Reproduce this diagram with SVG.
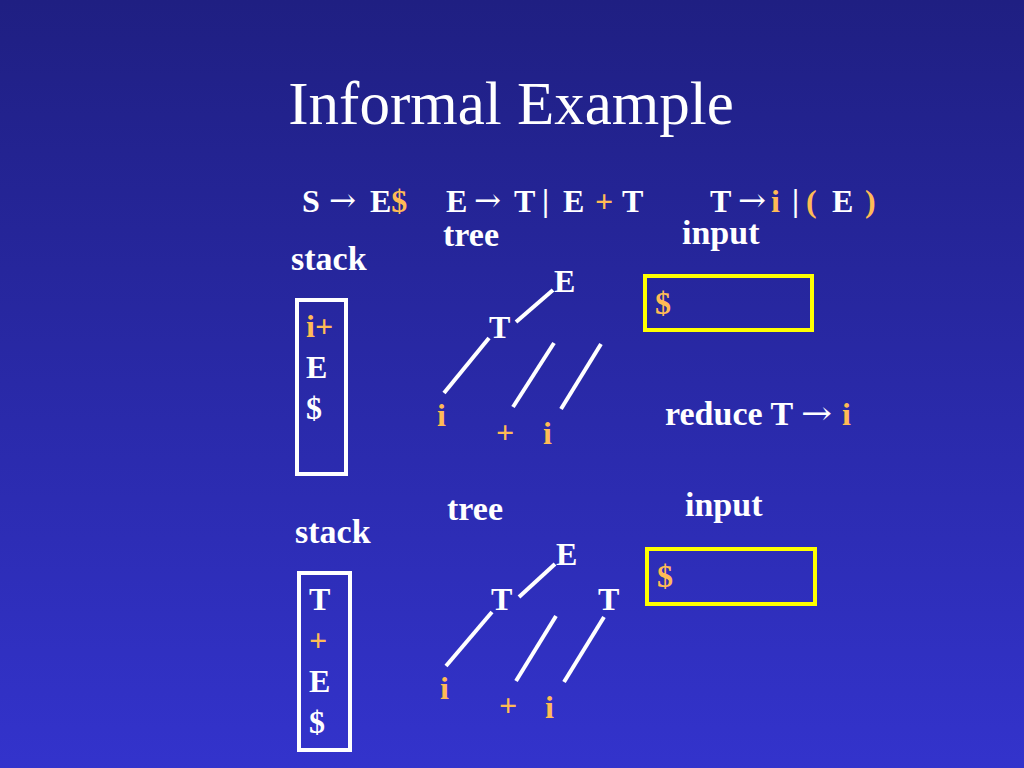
<svg xmlns="http://www.w3.org/2000/svg" width="1024" height="768" viewBox="0 0 1024 768">
<defs>
<linearGradient id="bg" x1="0" y1="0" x2="0" y2="1">
<stop offset="0" stop-color="#1F1F82"/>
<stop offset="1" stop-color="#3333CC"/>
</linearGradient>
<style>
text{font-family:"Liberation Serif","Times New Roman",serif;fill:#FFFFFF;}
.b{font-weight:bold;font-size:32px;}
.l{font-weight:bold;font-size:34px;}
.ar{font-family:"DejaVu Serif",serif;font-weight:normal;font-size:32px;}
.o{fill:#FFBB55;}
.title{font-size:61px;}
.stack{fill:none;stroke:#FFFFFF;stroke-width:4;}
.inbox{fill:none;stroke:#FFFF00;stroke-width:4;}
.edge{stroke:#FFFFFF;stroke-width:4;fill:none;}
</style>
</defs>
<rect width="1024" height="768" fill="url(#bg)"/>
<text id="title" class="title" x="511" y="124" text-anchor="middle">Informal Example</text>
<g id="grammar">
<text class="b" x="302" y="212">S</text>
<text class="ar" x="329" y="211" textLength="27" lengthAdjust="spacingAndGlyphs">→</text>
<text class="b" x="370" y="212">E<tspan class="o">$</tspan></text>
<text class="b" x="446" y="212">E</text>
<text class="ar" x="474" y="211" textLength="27" lengthAdjust="spacingAndGlyphs">→</text>
<text class="b" x="514" y="212">T</text>
<text class="b" x="542" y="211">|</text>
<text class="b" x="563" y="212">E</text>
<text class="b o" x="595" y="212">+</text>
<text class="b" x="622" y="212">T</text>
<text class="b" x="710" y="212">T</text>
<text class="ar" x="738" y="211" textLength="28" lengthAdjust="spacingAndGlyphs">→</text>
<text class="b o" x="771" y="212">i</text>
<text class="b" x="792" y="211">|</text>
<text class="b o" x="806" y="212">(</text>
<text class="b" x="832" y="212">E</text>
<text class="b o" x="865" y="212">)</text>
</g>
<g id="stack1">
<text class="l" x="291" y="270">stack</text>
<rect class="stack" x="297" y="300" width="49" height="174"/>
<text class="b o" x="306" y="337">i+</text>
<text class="b" x="306" y="378">E</text>
<text class="b" x="306" y="419">$</text>
</g>
<g id="tree1">
<text class="l" x="443" y="246">tree</text>
<text id="t1-E" class="b" x="554" y="292">E</text>
<text id="t1-T" class="b" x="489" y="338">T</text>
<text id="t1-i1" class="b o" x="437" y="426">i</text>
<text id="t1-plus" class="b o" x="496" y="443">+</text>
<text id="t1-i2" class="b o" x="543" y="444">i</text>
</g>
<g id="input1">
<text class="l" x="682" y="244">input</text>
<rect class="inbox" x="645" y="276" width="167" height="54"/>
<text class="b o" x="655" y="314">$</text>
</g>
<g id="action">
<text class="l" x="665" y="425">reduce T</text>
<text class="ar" x="801" y="424" textLength="31" lengthAdjust="spacingAndGlyphs">→</text>
<text class="b o" x="842" y="425">i</text>
</g>
<g id="stack2">
<text class="l" x="295" y="543">stack</text>
<rect class="stack" x="299" y="573" width="51" height="177"/>
<text class="b" x="309" y="610">T</text>
<text class="b o" x="309" y="651">+</text>
<text class="b" x="309" y="692">E</text>
<text class="b" x="309" y="733">$</text>
</g>
<g id="tree2">
<text class="l" x="447" y="520">tree</text>
<text id="t2-E" class="b" x="556" y="565">E</text>
<text id="t2-T1" class="b" x="491" y="610">T</text>
<text id="t2-T2" class="b" x="598" y="610">T</text>
<text id="t2-i1" class="b o" x="440" y="699">i</text>
<text id="t2-plus" class="b o" x="499" y="716">+</text>
<text id="t2-i2" class="b o" x="545" y="718">i</text>
</g>
<g id="input2">
<text class="l" x="685" y="516">input</text>
<rect class="inbox" x="647" y="549" width="168" height="55"/>
<text class="b o" x="657" y="587">$</text>
</g>
<g id="connectors">
<line class="edge" x1="516" y1="322" x2="553" y2="290"/>
<line class="edge" x1="489" y1="338" x2="444" y2="393"/>
<line class="edge" x1="554" y1="343" x2="513" y2="407"/>
<line class="edge" x1="601" y1="344" x2="561" y2="409"/>
<line class="edge" x1="519" y1="597" x2="555" y2="564"/>
<line class="edge" x1="492" y1="612" x2="446" y2="666"/>
<line class="edge" x1="556" y1="616" x2="516" y2="681"/>
<line class="edge" x1="604" y1="617" x2="564" y2="682"/>
</g>
</svg>
